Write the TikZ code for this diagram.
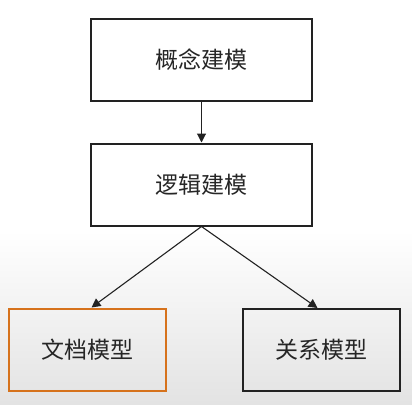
\documentclass[tikz,border=0pt]{standalone}
\usepackage{fontspec}
\newfontfamily\cjk{Noto Sans CJK SC}
\usetikzlibrary{arrows.meta}
\definecolor{boxorange}{HTML}{D6721C}
\definecolor{linecol}{HTML}{222222}
\tikzset{
  box/.style={draw=linecol, line width=2pt, minimum width=221pt, minimum height=82pt, inner sep=0pt, font=\cjk\fontsize{23}{23}\selectfont, text=black!85},
  smallbox/.style={box, minimum width=157pt},
  conn/.style={draw=linecol, line width=1.1pt, -{Triangle[length=9pt,width=9pt]}}
}
\begin{document}
\begin{tikzpicture}[x=1pt,y=-1pt]
\useasboundingbox (0,0) rectangle (412,404);
\fill[white] (0,0) rectangle (412,230);
\shade[top color=white, bottom color=black!11] (0,230) rectangle (412,404);
\node[box] (c) at (201.5,60) {概念建模};
\node[box] (l) at (201.5,184.5) {逻辑建模};
\node[smallbox, draw=boxorange] (d) at (87.5,349.5) {文档模型};
\node[smallbox] (r) at (321.5,350) {关系模型};
\draw[conn] (c.south) -- (l.north);
\draw[conn] (l.south) -- ([xshift=4pt]d.north);
\draw[conn] (l.south) -- ([xshift=-4pt]r.north);
\end{tikzpicture}
\end{document}
